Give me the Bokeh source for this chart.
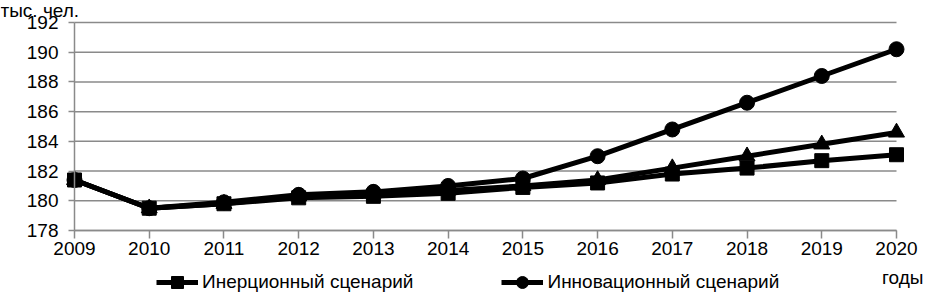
from bokeh.plotting import figure
from bokeh.models import Range1d, FixedTicker, Label, Legend, LegendItem
from bokeh.embed import file_html
from bokeh.resources import INLINE

years = [2009, 2010, 2011, 2012, 2013, 2014, 2015, 2016, 2017, 2018, 2019, 2020]
y_ticks = [178, 180, 182, 184, 186, 188, 190, 192]
inertial = [181.4, 179.5, 179.8, 180.2, 180.3, 180.5, 180.9, 181.2, 181.8, 182.2, 182.7, 183.1]
innovative = [181.4, 179.5, 179.9, 180.4, 180.6, 181.0, 181.5, 183.0, 184.8, 186.6, 188.4, 190.2]
third = [181.4, 179.5, 179.8, 180.3, 180.5, 180.7, 181.0, 181.4, 182.2, 183.0, 183.8, 184.6]
name_inertial = "Инерционный сценарий"
name_innovative = "Инновационный сценарий"
y_unit = "тыс. чел."
x_unit = "годы"

FONT = "Liberation Sans"
GRID = "#8a8a8a"
LW = 5

W, H = 925, 295
# plot-area corners in page pixels
PX0, PX1 = 74, 896     # x of first / last year
PY0, PY1 = 230, 22     # y of lowest / highest tick

ppx = (PX1 - PX0) / (years[-1] - years[0])
ppy = (PY0 - PY1) / (y_ticks[-1] - y_ticks[0])
x_rng = Range1d(years[0] - PX0 / ppx, years[-1] + (W - PX1) / ppx)
y_rng = Range1d(y_ticks[0] - (H - PY0) / ppy, y_ticks[-1] + PY1 / ppy)

p = figure(width=W, height=H, output_backend="svg", toolbar_location=None,
           x_range=x_rng, y_range=y_rng, min_border=0)
p.outline_line_color = None
p.grid.grid_line_color = None
p.background_fill_color = "white"
p.border_fill_color = "white"

# horizontal grid lines across the category span
p.segment(x0=[years[0]] * len(y_ticks), x1=[years[-1]] * len(y_ticks),
          y0=y_ticks, y1=y_ticks, line_color=GRID, line_width=1.5)

# axes pinned to the plot area (they take no border space)
p.xaxis.ticker = FixedTicker(ticks=years)
p.xaxis.bounds = (years[0], years[-1])
p.xaxis.fixed_location = y_ticks[0]
p.yaxis.ticker = FixedTicker(ticks=y_ticks)
p.yaxis.bounds = (y_ticks[0], y_ticks[-1])
p.yaxis.fixed_location = years[0]
for ax in (p.xaxis[0], p.yaxis[0]):
    ax.axis_line_color = GRID
    ax.axis_line_width = 1.5
    ax.major_tick_line_color = GRID
    ax.major_tick_line_width = 1.5
    ax.minor_tick_line_color = None
    ax.major_tick_in = 0
    ax.major_label_text_font = FONT
    ax.major_label_text_font_size = "19px"
    ax.major_label_text_color = "black"
p.xaxis.major_tick_out = 8
p.xaxis.major_label_standoff = 3
p.yaxis.major_tick_out = 6
p.yaxis.major_label_standoff = 10

def series(ys, marker, size):
    ln = p.line(years, ys, line_color="black", line_width=LW)
    mk = p.scatter(years, ys, marker=marker, size=size, color="black")
    return [ln, mk]

inn = series(innovative, "circle", 15)
series(third, "triangle", 16)
ie = series(inertial, "square", 14)

legend = Legend(items=[LegendItem(label=name_inertial, renderers=ie),
                       LegendItem(label=name_innovative, renderers=inn)],
                orientation="horizontal", location=(156, -2),
                padding=0, margin=0, spacing=88, glyph_width=42, glyph_height=30,
                label_height=22, label_standoff=4, label_text_font=FONT,
                label_text_font_size="19px", label_text_color="black",
                border_line_color=None, background_fill_alpha=0)
p.add_layout(legend, "center")

p.add_layout(Label(x=0, y=H - 9.5, x_units="screen", y_units="screen", text=y_unit,
                   text_font=FONT, text_font_size="19px", text_color="black",
                   text_align="left", text_baseline="alphabetic"))
p.add_layout(Label(x=923, y=H - 277, x_units="screen", y_units="screen", text=x_unit,
                   text_font=FONT, text_font_size="19px", text_color="black",
                   text_align="right", text_baseline="middle"))

open("out.html", "w").write(file_html(p, INLINE))
